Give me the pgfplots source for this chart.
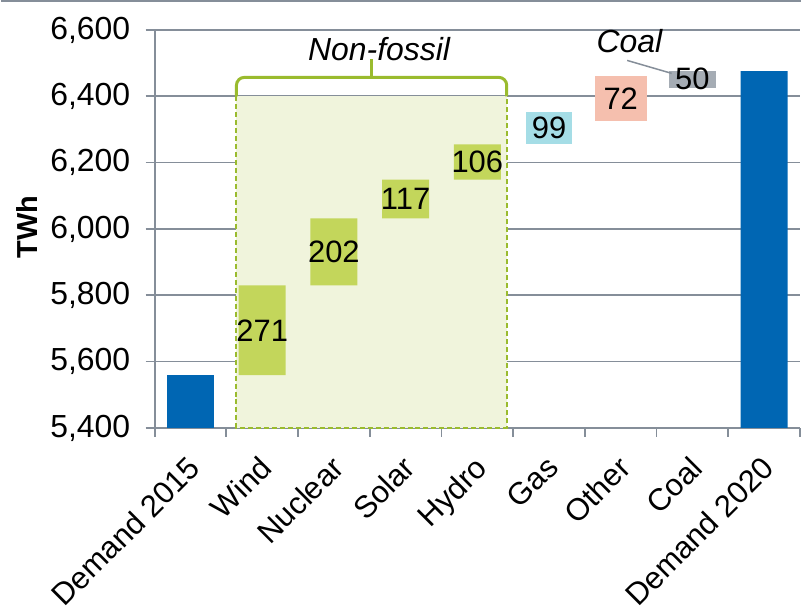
\documentclass[border=0pt]{standalone}
\usepackage{pgfplots}
\pgfplotsset{compat=1.18}
\usepackage{fontspec}
\setmainfont{Liberation Sans}
\definecolor{demblue}{HTML}{0066B3}
\definecolor{nfgreen}{HTML}{C3D65B}
\definecolor{shadegreen}{HTML}{F0F4DC}
\definecolor{dashgreen}{HTML}{9ABB2E}
\definecolor{gasblue}{HTML}{A5DDE6}
\definecolor{othersalmon}{HTML}{F5BFAE}
\definecolor{coalgray}{HTML}{A5ACB4}
\definecolor{axgray}{HTML}{858E99}
\begin{document}
\begin{tikzpicture}
\path (0,0) rectangle (802pt,611pt);
\draw[axgray, line width=2pt] (0,610pt) -- (802pt,610pt);
\begin{axis}[
  at={(154pt,182pt)}, anchor=south west,
  scale only axis, width=647pt, height=399pt,
  set layers,
  ybar stacked, bar width=47pt,
  xmin=-0.5, xmax=8.5, ymin=5400, ymax=6600,
  xtick={-0.5,0.5,...,8.5},
  x tick label as interval,
  xticklabels={Demand 2015, Wind, Nuclear, Solar, Hydro, Gas, Other, Coal, Demand 2020},
  ytick={5400,5600,...,6600},
  ymajorgrids, grid style={axgray, line width=1.8pt},
  axis x line*=bottom, axis y line*=left,
  axis line style={axgray, line width=1.8pt},
  tick align=outside, major tick length=9pt,
  tick style={axgray, line width=1.8pt},
  x tick label style={rotate=45, anchor=north east, font=\fontsize{31}{36}\selectfont, xshift=-12pt, yshift=-6pt},
  y tick label style={font=\fontsize{32}{38}\selectfont, xshift=-12pt},
  /pgf/number format/assume math mode=true,
  /pgf/number format/1000 sep={,},
  ylabel={\bfseries TWh},
  ylabel style={font=\fontsize{29}{34}\selectfont, at={(axis description cs:-0.197,0.504)}, anchor=center},
]
% invisible base
\addplot[draw=none, fill=none] coordinates {(0,0)(1,5559)(2,5830)(3,6032)(4,6149)(5,6255)(6,6354)(7,6426)(8,0)};
% demand
\addplot[draw=none, fill=demblue] coordinates {(0,5559)(1,0)(2,0)(3,0)(4,0)(5,0)(6,0)(7,0)(8,6476)};
% non-fossil
\addplot[draw=none, fill=nfgreen] coordinates {(0,0)(1,271)(2,202)(3,117)(4,106)(5,0)(6,0)(7,0)(8,0)};
% gas
\addplot[draw=none, fill=gasblue] coordinates {(0,0)(1,0)(2,0)(3,0)(4,0)(5,99)(6,0)(7,0)(8,0)};
% other
\addplot[draw=none, fill=othersalmon] coordinates {(0,0)(1,0)(2,0)(3,0)(4,0)(5,0)(6,72)(7,0)(8,0)};
% coal
\addplot[draw=none, fill=coalgray] coordinates {(0,0)(1,0)(2,0)(3,0)(4,0)(5,0)(6,0)(7,50)(8,0)};
\fill[shadegreen, on layer=axis background] (axis cs:0.641,5400) rectangle (axis cs:4.41,6400);
\end{axis}
% overlay axis for labels and annotations
\begin{axis}[
  at={(154pt,182pt)}, anchor=south west,
  scale only axis, width=647pt, height=399pt,
  xmin=-0.5, xmax=8.5, ymin=5400, ymax=6600,
  hide axis, clip=false,
]
\addplot[draw=none, mark=none, nodes near coords, point meta=explicit symbolic,
  nodes near coords style={anchor=center, font=\fontsize{31}{36}\selectfont, text=black,
    fill=othersalmon, minimum width=52pt, minimum height=45pt, inner sep=0pt}]
  coordinates {(6,6392.5) [72]};
\addplot[draw=none, mark=none, nodes near coords, point meta=explicit symbolic,
  nodes near coords style={anchor=center, font=\fontsize{31}{36}\selectfont, text=black}]
  coordinates {(1,5694.5) [271] (2,5931) [202] (3,6090.5) [117] (4,6202) [106]
               (5,6304.5) [99] (7,6453) [50]};
\draw[dashgreen, dash pattern=on 5pt off 3pt, line width=2pt] (axis cs:0.641,6400) -- (axis cs:0.641,5400) -- (axis cs:4.41,5400) -- (axis cs:4.41,6400);
\draw[dashgreen, line width=3pt, rounded corners=8pt] (axis cs:0.641,6400) -- (axis cs:0.641,6457) -- (axis cs:4.41,6457) -- (axis cs:4.41,6400);
\draw[dashgreen, line width=3pt] (axis cs:2.53,6457) -- (axis cs:2.53,6512);
\node[font=\fontsize{32}{38}\selectfont\itshape] at (axis cs:2.63,6541) {Non-fossil};
\node[font=\fontsize{32}{38}\selectfont\itshape] at (axis cs:6.12,6565) {Coal};
\draw[axgray, line width=1.5pt] (axis cs:6.09,6508) -- (axis cs:6.71,6469);
\end{axis}
\end{tikzpicture}
\end{document}
